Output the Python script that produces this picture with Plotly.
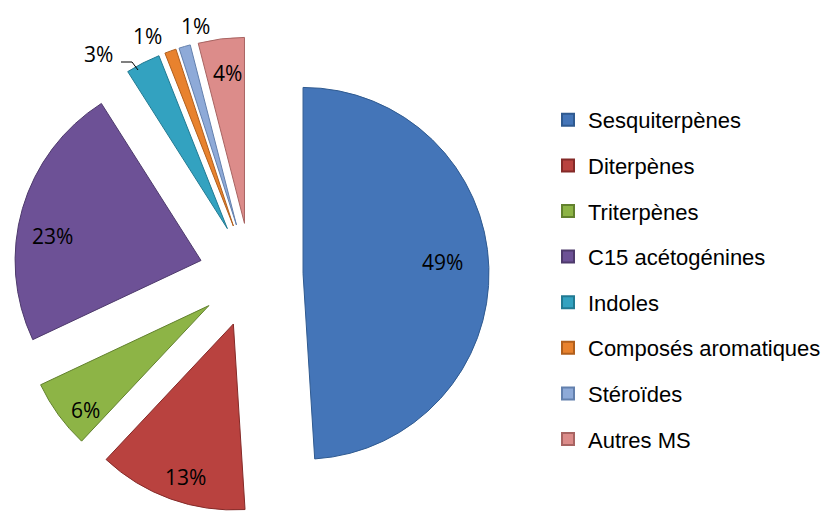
import plotly.graph_objects as go

categories = ["Sesquiterpènes", "Diterpènes", "Triterpènes", "C15 acétogénines",
              "Indoles", "Composés aromatiques", "Stéroïdes", "Autres MS"]
values = [49, 13, 6, 23, 3, 1, 1, 4]
colors = ["#4475b8", "#b9423f", "#8db446", "#6d5196",
          "#33a2c0", "#e8822e", "#8eaad8", "#dc8c8a"]
edge_colors = ["#2f5a90", "#842a28", "#62812e", "#4e3a6c",
               "#217a92", "#b15f1c", "#6380ad", "#a86462"]

W, H = 822, 513
fig = go.Figure()

fig.add_trace(go.Pie(
    labels=categories,
    values=values,
    sort=False,
    direction="clockwise",
    rotation=0,
    pull=[0.28] * len(values),
    marker=dict(colors=colors, line=dict(color=edge_colors, width=1)),
    textinfo="none",
    domain=dict(x=[11 / W, 491 / W], y=[0, 476 / H]),
    showlegend=False,
    hoverinfo="label+percent",
    automargin=False,
))

for i, (cat, col, ec) in enumerate(zip(categories, colors, edge_colors)):
    fig.add_trace(go.Scatter(
        x=[None], y=[None], mode="markers", name=cat,
        legendgroup=f"g{i}",
        marker=dict(symbol="square", size=13, color=col, line=dict(color=ec, width=1)),
        showlegend=True,
    ))

def px(x, y):
    return x / W, 1 - y / H

# percentage labels (text from the data), placed as in the original chart
label_pos = [(443, 262), (185, 477), (85, 410), (52, 236),
             (98, 54), (147, 36), (195, 26), (227, 73)]
total = sum(values)
for v, (lx, ly) in zip(values, label_pos):
    ax_, ay_ = px(lx, ly)
    fig.add_annotation(
        x=ax_, y=ay_, xref="paper", yref="paper",
        text=f"{round(100 * v / total)}%", showarrow=False,
        font=dict(family="Open Sans", size=21, color="#000000"),
        xanchor="center", yanchor="middle",
    )

# leader line for the 3% label
p1, p2, p3 = px(121, 62), px(132, 62), px(138, 70)
fig.add_shape(
    type="path", xref="paper", yref="paper",
    path=f"M {p1[0]} {p1[1]} L {p2[0]} {p2[1]} L {p3[0]} {p3[1]}",
    line=dict(color="#000000", width=1),
)

fig.update_layout(
    width=W, height=H,
    margin=dict(l=0, r=0, t=0, b=0, autoexpand=False),
    paper_bgcolor="white", plot_bgcolor="white",
    xaxis=dict(visible=False), yaxis=dict(visible=False),
    legend=dict(
        x=548 / W, xanchor="left",
        y=1 - 99 / H, yanchor="top",
        font=dict(family="Liberation Sans", size=22, color="#000000"),
        tracegroupgap=14,
        itemsizing="constant",
        bgcolor="rgba(0,0,0,0)",
    ),
)

fig.write_html("out.html", config={"displayModeBar": False},
               post_script="document.body.style.margin='0px';")
